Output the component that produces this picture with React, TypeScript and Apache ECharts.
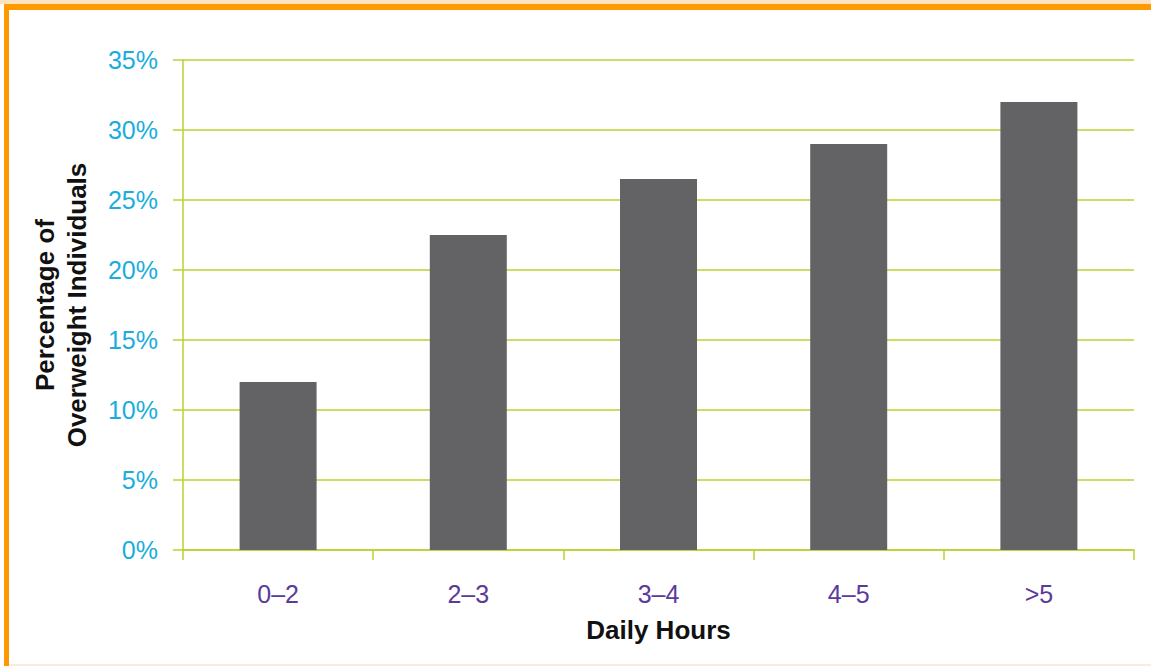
import React, { useEffect, useRef } from "react";
import * as echarts from "echarts";

const categories = ["0–2", "2–3", "3–4", "4–5", ">5"];
const values = [12, 22.5, 26.5, 29, 32];
const yTicks = [0, 5, 10, 15, 20, 25, 30, 35];

const GREEN = "#b5d42f";
const FONT = "Liberation Sans, Arial, Helvetica, sans-serif";

export default function App() {
  const ref = useRef<HTMLDivElement>(null);
  useEffect(() => {
    document.body.style.margin = "0";
    const chart = echarts.init(ref.current!, null, { renderer: "svg" });
    chart.setOption({
      animation: false,
      backgroundColor: "#ffffff",
      grid: { left: 183, right: 17, top: 60, bottom: 116, containLabel: false },
      xAxis: {
        type: "category",
        data: categories,
        boundaryGap: true,
        axisLine: { show: true, lineStyle: { color: GREEN, width: 1.5 } },
        axisTick: { show: true, length: 10, alignWithLabel: false, lineStyle: { color: GREEN, width: 1.5 } },
        axisLabel: { color: "#5b3a9a", fontSize: 25, fontFamily: FONT, margin: 31 },
        name: "Daily Hours",
        nameLocation: "middle",
        nameGap: 67,
        nameTextStyle: { color: "#111", fontSize: 26, fontWeight: "bold", fontFamily: FONT },
      },
      yAxis: {
        type: "value",
        min: yTicks[0],
        max: yTicks[yTicks.length - 1],
        interval: 5,
        axisLine: { show: true, lineStyle: { color: GREEN, width: 1.5 } },
        axisTick: { show: true, length: 10, lineStyle: { color: GREEN, width: 1.5 } },
        splitLine: { show: true, lineStyle: { color: GREEN, width: 1.5 } },
        axisLabel: { color: "#1aaddc", fontSize: 25, fontFamily: FONT, margin: 25, formatter: "{value}%" },
        name: "Percentage of\nOverweight Individuals",
        nameLocation: "middle",
        nameGap: 90,
        nameTextStyle: { color: "#111", fontSize: 26, fontWeight: "bold", fontFamily: FONT, lineHeight: 32 },
      },
      series: [
        {
          type: "bar",
          data: values,
          barWidth: 77,
          itemStyle: { color: "#636366" },
        },
      ],
      graphic: [
        { type: "rect", shape: { x: 0, y: 0, width: 1151, height: 4 }, style: { fill: "#fde3c0" }, silent: true },
        { type: "rect", shape: { x: 4, y: 4, width: 1147, height: 6 }, style: { fill: "#ff9900" }, silent: true },
        { type: "rect", shape: { x: 4, y: 4, width: 5, height: 662 }, style: { fill: "#ff9900" }, silent: true },
        { type: "rect", shape: { x: 9, y: 664, width: 1142, height: 2 }, style: { fill: "#f6eedb" }, silent: true },
      ],
    });
    return () => chart.dispose();
  }, []);
  return <div ref={ref} style={{ width: 1151, height: 666, position: "absolute", left: 0, top: 0 }} />;
}
